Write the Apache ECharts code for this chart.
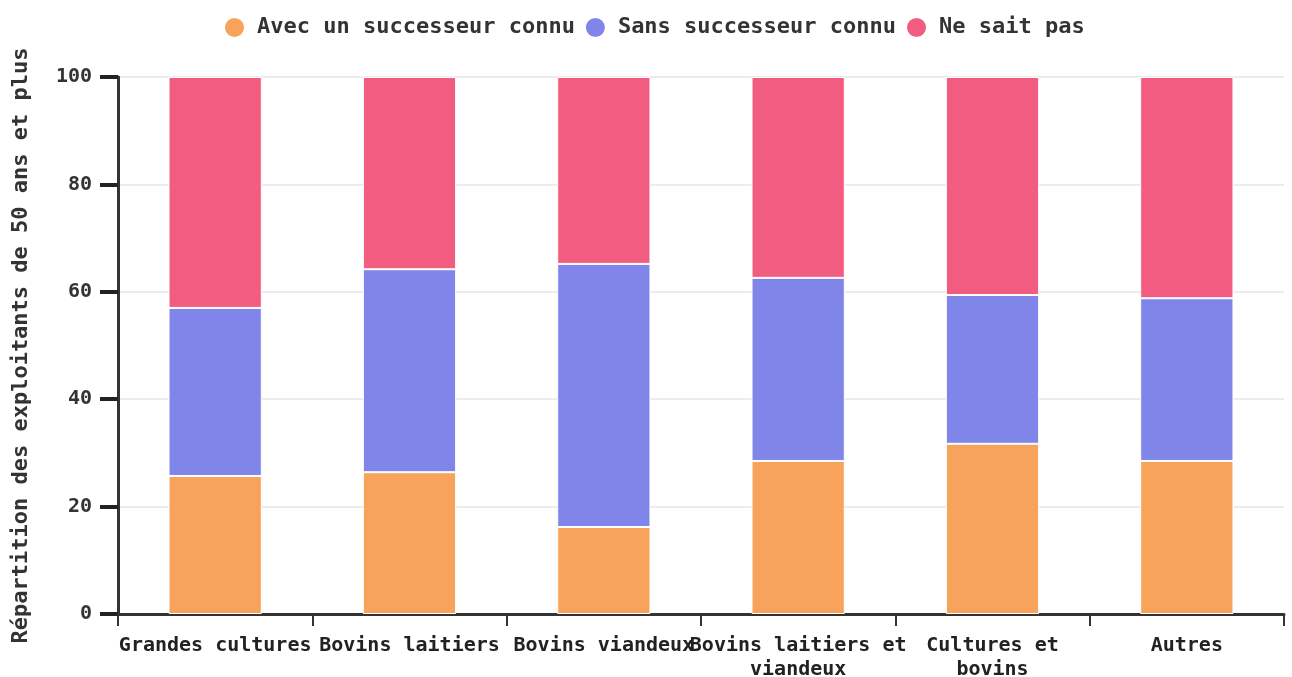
<!DOCTYPE html>
<html>
<head>
<meta charset="utf-8">
<script src="https://cdn.jsdelivr.net/npm/echarts@6/dist/echarts.min.js"></script>
<style>
html,body{margin:0;padding:0;background:#fff;}
#chart{width:1292px;height:677px;}
</style>
</head>
<body>
<div id="chart"></div>
<script>
const categories = ["Grandes cultures", "Bovins laitiers", "Bovins viandeux", "Bovins laitiers et\nviandeux", "Cultures et\nbovins", "Autres"];
const seriesNames = ["Avec un successeur connu", "Sans successeur connu", "Ne sait pas"];
const avecSuccesseur = [25.7, 26.4, 16.2, 28.5, 31.7, 28.5];
const sansSuccesseur = [31.3, 37.8, 49.0, 34.1, 27.7, 30.3];
const neSaitPas = [43.0, 35.8, 34.8, 37.4, 40.6, 41.2];
const yTicks = [0, 20, 40, 60, 80, 100];
const colors = ["#f7a35c", "#8085e9", "#f15c80"];

const font = "'DejaVu Sans Mono', monospace";
const chart = echarts.init(document.getElementById('chart'));
const dataSets = [avecSuccesseur, sansSuccesseur, neSaitPas];
chart.setOption({
  animation: false,
  textStyle: { fontFamily: font },
  legend: {
    top: 11,
    left: 218,
    icon: 'circle',
    itemWidth: 21,
    itemHeight: 21,
    itemGap: 9,
    textStyle: { fontFamily: font, fontSize: 22, color: '#333', fontWeight: 'bold', padding: [0, 0, 0, 7] },
    data: seriesNames
  },
  grid: { left: 118, right: 8, top: 77, bottom: 63, containLabel: false, outerBoundsMode: 'none' },
  xAxis: {
    type: 'category',
    data: categories,
    axisLine: { lineStyle: { color: '#333', width: 3 } },
    axisTick: { show: true, length: 12, lineStyle: { color: '#333', width: 2 } },
    axisLabel: { fontFamily: font, fontSize: 20, color: '#222', fontWeight: 'bold', margin: 20, lineHeight: 24, interval: 0 }
  },
  yAxis: {
    type: 'value',
    min: yTicks[0],
    max: yTicks[yTicks.length - 1],
    interval: 20,
    name: 'Répartition des exploitants de 50 ans et plus',
    nameLocation: 'middle',
    nameGap: 86,
    nameTextStyle: { fontFamily: font, fontSize: 22, color: '#333', fontWeight: 'bold' },
    axisLine: { show: true, lineStyle: { color: '#333', width: 3 } },
    axisTick: { show: true, length: 18, lineStyle: { color: '#222', width: 4 } },
    axisLabel: { fontFamily: font, fontSize: 20, color: '#333', fontWeight: 'bold', margin: 26 },
    splitLine: { lineStyle: { color: '#e6e6e6', width: 1.5 } }
  },
  series: seriesNames.map((n, i) => ({
    name: n,
    type: 'bar',
    stack: 'total',
    barWidth: '48%',
    data: dataSets[i],
    itemStyle: { color: colors[i], borderColor: '#fff', borderWidth: 1 }
  }))
});
</script>
</body>
</html>
